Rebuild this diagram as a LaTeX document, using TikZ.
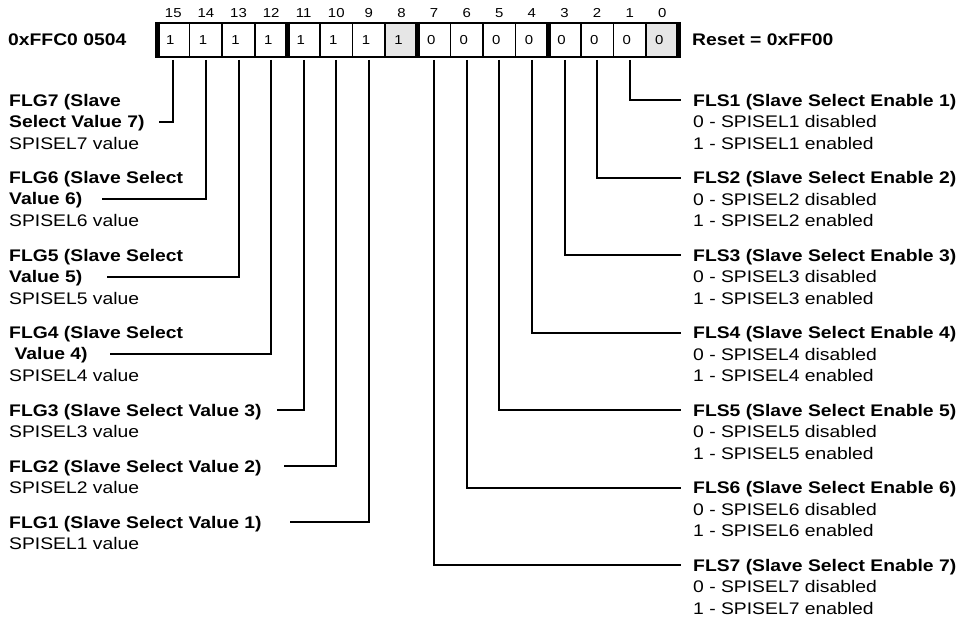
\documentclass[tikz,border=0pt]{standalone}
\usepackage{fontspec}
\setmainfont{Liberation Sans}[FakeStretch=1.15]
\definecolor{cellgray}{HTML}{E6E6E6}
\begin{document}
\begin{tikzpicture}[x=1pt,y=-1pt,
  cell/.style={draw=black, line width=1.5pt, minimum width=32.6pt, minimum height=34pt, inner sep=0pt, outer sep=0pt},
  sep/.style={line width=5pt},
  digit/.style={font=\fontsize{13}{15}\selectfont, inner sep=0pt, anchor=west},
  bitnum/.style={font=\fontsize{13}{15}\selectfont, inner sep=0pt},
  lbl/.style={font=\fontsize{16.8}{21.5}\selectfont, align=left, inner sep=0pt, anchor=base west},
  conn/.style={line width=2pt},
]
\useasboundingbox (0,0) rectangle (962,618);

% register cells
\foreach \b/\v in {15/1,14/1,13/1,12/1,11/1,10/1,9/1,8/1,7/0,6/0,5/0,4/0,3/0,2/0,1/0,0/0}{
  \pgfmathsetmacro{\cx}{157+32.6*(15-\b)+16.3}
  \ifnum\b=8 \def\fc{cellgray}\else\ifnum\b=0 \def\fc{cellgray}\else\def\fc{white}\fi\fi
  \node[cell, fill=\fc] (b\b) at (\cx,40) {};
  \node[digit] (d\b) at ([xshift=9pt]b\b.west) {\v};
  \node[bitnum] (n\b) at (\cx,13) {\b};
}
% thick separators
\draw[sep] ([yshift=1pt]b15.north west) -- ([yshift=-1pt]b15.south west);
\draw[sep] ([yshift=1pt]b11.north west) -- ([yshift=-1pt]b11.south west);
\draw[sep] ([yshift=1pt]b7.north west) -- ([yshift=-1pt]b7.south west);
\draw[sep] ([yshift=1pt]b3.north west) -- ([yshift=-1pt]b3.south west);
\draw[sep] ([yshift=1pt]b0.north east) -- ([yshift=-1pt]b0.south east);

% register name and reset
\node[font=\fontsize{16.8}{20}\bfseries\selectfont, anchor=west, inner sep=0pt] (addr) at (8,40) {0xFFC0 0504};
\node[font=\fontsize{16.8}{20}\bfseries\selectfont, anchor=west, inner sep=0pt] (reset) at (692,40) {Reset = 0xFF00};

% left labels (anchor = baseline of last line)
\node[lbl] (flg7) at (9,149) {\textbf{FLG7 (Slave}\\\textbf{Select Value 7)}\\SPISEL7 value};
\node[lbl] (flg6) at (9,226) {\textbf{FLG6 (Slave Select}\\\textbf{Value 6)}\\SPISEL6 value};
\node[lbl] (flg5) at (9,304) {\textbf{FLG5 (Slave Select}\\\textbf{Value 5)}\\SPISEL5 value};
\node[lbl] (flg4) at (9,381) {\textbf{FLG4 (Slave Select}\\\textbf{\ Value 4)}\\SPISEL4 value};
\node[lbl] (flg3) at (9,437.5) {\textbf{FLG3 (Slave Select Value 3)}\\SPISEL3 value};
\node[lbl] (flg2) at (9,493.5) {\textbf{FLG2 (Slave Select Value 2)}\\SPISEL2 value};
\node[lbl] (flg1) at (9,549.5) {\textbf{FLG1 (Slave Select Value 1)}\\SPISEL1 value};

\coordinate (g7) at (159,122);
\coordinate (g6) at (102,199);
\coordinate (g5) at (107,277);
\coordinate (g4) at (110,354);
\coordinate (g3) at (277,410);
\coordinate (g2) at (284,466);
\coordinate (g1) at (290,522);

\draw[conn] ([yshift=-3pt]b15.south) |- (g7);
\draw[conn] ([yshift=-3pt]b14.south) |- (g6);
\draw[conn] ([yshift=-3pt]b13.south) |- (g5);
\draw[conn] ([yshift=-3pt]b12.south) |- (g4);
\draw[conn] ([yshift=-3pt]b11.south) |- (g3);
\draw[conn] ([yshift=-3pt]b10.south) |- (g2);
\draw[conn] ([yshift=-3pt]b9.south) |- (g1);

% right labels
\foreach \k in {1,...,7}{
  \pgfmathsetmacro{\yy}{100+77.5*(\k-1)}
  \coordinate (s\k) at (681,\yy);
  \node[lbl] (fls\k) at (693,\yy+49) {\textbf{FLS\k\ (Slave Select Enable \k)}\\0 - SPISEL\k\ disabled\\1 - SPISEL\k\ enabled};
  \draw[conn] ([yshift=-3pt]b\k.south) |- (s\k);
}
\end{tikzpicture}
\end{document}
